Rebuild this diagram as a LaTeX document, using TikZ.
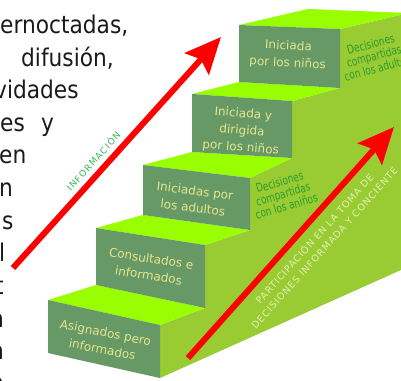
\documentclass[tikz,border=0pt]{standalone}
\usepackage{fontspec}
\setmainfont{DejaVu Sans}
\newfontfamily\leftfont[FakeStretch=0.89]{DejaVu Sans}
\newfontfamily\sidefont[FakeStretch=0.75]{DejaVu Sans}
\newfontfamily\infofont[LetterSpace=12]{DejaVu Sans}
\newfontfamily\partfont[LetterSpace=10]{DejaVu Sans}
\usetikzlibrary{arrows.meta}
\definecolor{frontg}{HTML}{669966}
\definecolor{topg}{HTML}{99FF00}
\definecolor{sideg}{HTML}{99CC33}
\definecolor{fronttxt}{HTML}{E6E68C}
\definecolor{sidetxt}{HTML}{2E9A2E}
\definecolor{infotxt}{HTML}{3CB95A}
\definecolor{parttxt}{HTML}{E6EFB4}
\definecolor{bodytxt}{HTML}{1A1A1A}
\begin{document}
\begin{tikzpicture}[x=1pt,y=-1pt,
  frontface/.style={fill=frontg},
  topface/.style={fill=topg},
  sideface/.style={fill=sideg},
  redarrow/.style={draw=red, line width=6pt, -{Stealth[length=36pt,width=32pt,inset=6pt]}},
  lefttxt/.style={anchor=base west, inner sep=0pt, text=bodytxt, font=\leftfont\fontsize{24.4}{29}\selectfont},
  stairtxt/.style={align=center, text=fronttxt, inner sep=0pt, font=\fontsize{12}{17}\selectfont},
  sidetext/.style={align=center, text=sidetxt, inner sep=0pt, font=\sidefont\fontsize{12}{12.5}\selectfont},
  infotext/.style={text=infotxt, inner sep=0pt, font=\infofont\fontsize{9}{11}\selectfont},
  parttext/.style={align=center, text=parttxt, inner sep=0pt, font=\partfont\fontsize{9.5}{13.4}\selectfont}]
\useasboundingbox (0,0) rectangle (401,380);
\clip (0,0) rectangle (401,380);
\fill[white] (0,0) rectangle (401,380);

% left paragraph (cropped)
\node[lefttxt] (l1) at (0,33) {ernoctadas,};
\node[lefttxt] (l2) at (21,66) {difusión,};
\node[lefttxt] (l3) at (-6,98) {vidades};
\node[lefttxt] (l4) at (0,131) {es};
\node[lefttxt] (l4b) at (41,131) {y};
\node[lefttxt] (l5) at (-1,163) {en};
\node[lefttxt] (l6) at (-1,196) {n};
\node[lefttxt] (l7) at (2,229) {s};
\node[lefttxt] (l8) at (-1,261) {l};
\node[lefttxt] (l9) at (-5,294) {t};
\node[lefttxt] (l10) at (-10,327) {n};
\node[lefttxt] (l11) at (-10,359) {n};
\node[lefttxt] (l12) at (-10,391) {n};

% side of the staircase
\fill[sideface] (160,378) -- (160,325) -- (205,308) -- (205,245) -- (250,230) -- (250,178)
  -- (292,158) -- (292,101) -- (340,88) -- (340,29) -- (409,13) -- (409,266.4) -- cycle;

% steps: top faces and front faces
\fill[topface] (48,300) -- (96,285) -- (205,308) -- (160,325) -- cycle;
\fill[frontface] (48,300) -- (160,325) -- (160,378) -- (48,353) -- cycle;
\fill[topface] (96,228) -- (143,215) -- (250,230) -- (205,245) -- cycle;
\fill[frontface] (96,228) -- (205,245) -- (205,308) -- (96,285) -- cycle;
\fill[topface] (143,165) -- (192,152) -- (292,158) -- (250,178) -- cycle;
\fill[frontface] (143,165) -- (250,178) -- (250,230) -- (143,215) -- cycle;
\fill[topface] (192,94) -- (239,82) -- (340,88) -- (292,101) -- cycle;
\fill[frontface] (192,94) -- (292,101) -- (292,158) -- (192,152) -- cycle;
\fill[topface] (239,25) -- (308,9) -- (409,13) -- (340,29) -- cycle;
\fill[frontface] (239,25) -- (340,29) -- (340,88) -- (239,82) -- cycle;

% step labels
\node[stairtxt, rotate=-11] (s1) at (104,341) {Asignados pero\\informados};
\node[stairtxt, rotate=-9] (s2) at (150,267) {Consultados e\\informados};
\node[stairtxt, rotate=-7] (s3) at (194,199) {Iniciadas por\\los adultos};
\node[stairtxt, rotate=-4.5] (s4) at (242,131) {Iniciada y\\dirigida\\por los niños};
\node[stairtxt, rotate=-3] (s5) at (288,55) {Iniciada\\por los niños};

% side labels
\node[sidetext, rotate=15] (d1) at (374,56) {Decisiones\\compartidas\\con los adultos};
\node[sidetext, rotate=16] (d2) at (283,194) {Decisiones\\compartidas\\con los aniños};

% arrows
\coordinate (a1s) at (13,268);
\coordinate (a1e) at (221,37);
\coordinate (a2s) at (188,358);
\coordinate (a2e) at (394,127);
\draw[redarrow] (a1s) -- (a1e);
\draw[redarrow] (a2s) -- (a2e);

% arrow labels
\node[infotext, rotate=48] (info) at (93,161) {INFORMACIÓN};
\node[parttext, rotate=48] (part) at (319,243) {PARTICIPACIÓN EN LA TOMA DE\\DECISIONES INFORMADA Y CONCIENTE};
\end{tikzpicture}
\end{document}
